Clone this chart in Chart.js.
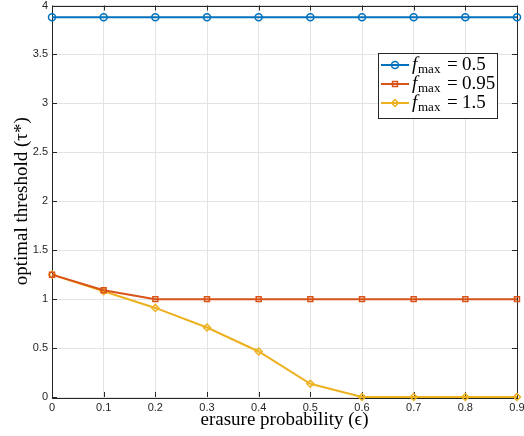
<!DOCTYPE html>
<html>
<head>
<meta charset="utf-8">
<script src="https://cdn.jsdelivr.net/npm/chart.js@4/dist/chart.umd.min.js"></script>
<style>
  html, body { margin: 0; padding: 0; background: #fff; }
  #wrap { width: 524px; height: 436px; }
</style>
</head>
<body>
<div id="wrap"><canvas id="thresholdChart"></canvas></div>
<script>
// erasure probability on the x axis
const epsilon = [0, 0.1, 0.2, 0.3, 0.4, 0.5, 0.6, 0.7, 0.8, 0.9];
// optimal threshold for each f_max
const tauFmax05 = [3.88, 3.88, 3.88, 3.88, 3.88, 3.88, 3.88, 3.88, 3.88, 3.88];
const tauFmax095 = [1.25, 1.09, 1.0, 1.0, 1.0, 1.0, 1.0, 1.0, 1.0, 1.0];
const tauFmax15 = [1.25, 1.08, 0.91, 0.71, 0.465, 0.135, 0, 0, 0, 0];
const seriesNames = ['0.5', '0.95', '1.5'];
const xTicks = [0, 0.1, 0.2, 0.3, 0.4, 0.5, 0.6, 0.7, 0.8, 0.9];
const yTicks = [0, 0.5, 1, 1.5, 2, 2.5, 3, 3.5, 4];

const AXIS_COLOR = '#262626';
const colors = ['#0072BD', '#D95319', '#EDB120'];
const markers = ['circle', 'rect', 'rectRot'];

function toPoints(ys) {
    return epsilon.map((x, i) => ({ x: x, y: ys[i] }));
}

// MATLAB-like box with inward ticks
const axesBox = {
    id: 'axesBox',
    beforeDatasetsDraw(chart) {
        const { ctx, chartArea: a, scales } = chart;
        ctx.save();
        ctx.strokeStyle = AXIS_COLOR;
        ctx.lineWidth = 1;
        ctx.strokeRect(Math.round(a.left) + 0.5, Math.round(a.top) + 0.5,
            Math.round(a.right - a.left), Math.round(a.bottom - a.top));
        ctx.beginPath();
        xTicks.forEach(v => {
            const px = Math.round(scales.x.getPixelForValue(v)) + 0.5;
            ctx.moveTo(px, a.bottom); ctx.lineTo(px, a.bottom - 5);
            ctx.moveTo(px, a.top); ctx.lineTo(px, a.top + 5);
        });
        yTicks.forEach(v => {
            const py = Math.round(scales.y.getPixelForValue(v)) + 0.5;
            ctx.moveTo(a.left, py); ctx.lineTo(a.left + 5, py);
            ctx.moveTo(a.right, py); ctx.lineTo(a.right - 5, py);
        });
        ctx.stroke();
        ctx.restore();
    }
};

// legend with f_max subscript, drawn like the MATLAB one
const mathLegend = {
    id: 'mathLegend',
    afterDraw(chart) {
        const ctx = chart.ctx;
        const bx = 378, by = 53, bw = 119, bh = 65;
        ctx.save();
        ctx.fillStyle = '#fff';
        ctx.fillRect(bx, by, bw, bh);
        ctx.strokeStyle = '#262626';
        ctx.lineWidth = 1;
        ctx.strokeRect(bx + 0.5, by + 0.5, bw, bh);
        const rows = [65, 84, 103];
        rows.forEach((ry, i) => {
            ctx.strokeStyle = colors[i];
            ctx.lineWidth = 2;
            ctx.beginPath();
            ctx.moveTo(381, ry); ctx.lineTo(409, ry);
            ctx.stroke();
            ctx.fillStyle = 'rgba(0,0,0,0)';
            ctx.lineWidth = 1.5;
            Chart.helpers.drawPoint(ctx, {
                pointStyle: markers[i], radius: 3.5, borderWidth: 1.5, rotation: 0
            }, 395, ry);
            ctx.fillStyle = '#000';
            ctx.textBaseline = 'alphabetic';
            const base = ry + 5;
            ctx.font = 'italic 19px "Liberation Serif"';
            ctx.fillText('f', 412, base);
            ctx.font = '13px "Liberation Serif"';
            ctx.fillText('max', 418, base + 3);
            ctx.font = '19px "Liberation Serif"';
            ctx.fillText('=', 447, base);
            ctx.fillText(seriesNames[i], 462, base);
        });
        ctx.restore();
    }
};

const datasets = [tauFmax05, tauFmax095, tauFmax15].map((ys, i) => ({
    label: 'f_max = ' + seriesNames[i],
    data: toPoints(ys),
    borderColor: colors[i],
    backgroundColor: 'rgba(0,0,0,0)',
    borderWidth: 2,
    pointStyle: markers[i],
    pointRadius: 3.5,
    pointBorderWidth: 1.5,
    pointBorderColor: colors[i],
    pointBackgroundColor: 'rgba(0,0,0,0)',
    tension: 0,
    clip: false
}));

const tickFont = { family: '"Liberation Sans", Helvetica, Arial', size: 11 };
const titleFont = { family: '"Liberation Serif"', size: 19 };

new Chart(document.getElementById('thresholdChart').getContext('2d'), {
    type: 'line',
    data: { datasets: datasets },
    plugins: [axesBox, mathLegend],
    options: {
        responsive: true,
        maintainAspectRatio: false,
        animation: false,
        layout: { padding: { top: 5, right: 7, left: 0, bottom: 0 } },
        plugins: {
            legend: { display: false },
            tooltip: { enabled: false }
        },
        scales: {
            x: {
                type: 'linear',
                min: 0,
                max: 0.9,
                afterBuildTicks: s => { s.ticks = xTicks.map(v => ({ value: v })); },
                ticks: {
                    color: AXIS_COLOR,
                    font: tickFont,
                    padding: 4,
                    maxRotation: 0,
                    callback: v => String(Number(v.toFixed(1)))
                },
                grid: { color: '#e3e3e3', lineWidth: 1, drawTicks: false },
                border: { display: false },
                title: {
                    display: true,
                    text: 'erasure probability (ϵ)',
                    color: '#000',
                    font: titleFont,
                    padding: { top: 0, bottom: 5 }
                },
                afterFit: s => { s.height = 39; s.paddingLeft = 0; s.paddingRight = 0; }
            },
            y: {
                type: 'linear',
                min: 0,
                max: 4,
                afterBuildTicks: s => { s.ticks = yTicks.map(v => ({ value: v })); },
                ticks: {
                    color: AXIS_COLOR,
                    font: tickFont,
                    padding: 4,
                    callback: v => String(v)
                },
                grid: { color: '#e3e3e3', lineWidth: 1, drawTicks: false },
                border: { display: false },
                title: {
                    display: true,
                    text: 'optimal threshold (τ*)',
                    color: '#000',
                    font: titleFont,
                    padding: { top: 11, bottom: 0 }
                },
                afterFit: s => { s.width = 52; s.paddingTop = 0; s.paddingBottom = 0; }
            }
        }
    }
});
</script>
</body>
</html>
